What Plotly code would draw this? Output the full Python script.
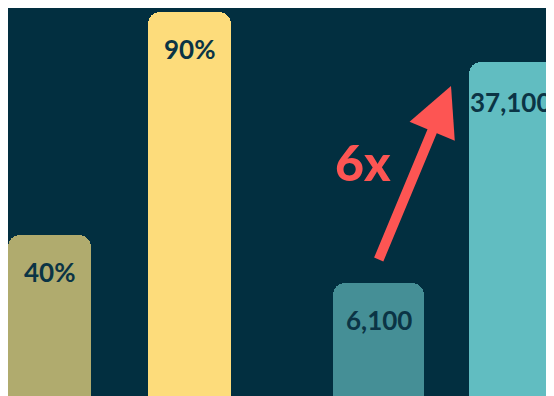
import math
import plotly.graph_objects as go

# ---- data ----
share_labels = ["Before", "After"]
share_values = [40, 90]
share_text = ["40%", "90%"]

count_labels = ["Before", "After"]
count_values = [6100, 37100]
count_text = ["6,100", "37,100"]

growth_text = "6x"

# ---- style ----
BG = "#022f40"
TXT = "#0b3445"
RED = "#fd5553"
share_colors = ["#b0ab6e", "#fddc7b"]
count_colors = ["#458f96", "#61bdc1"]
FONT = "Lato"

fig = go.Figure()
fig.add_trace(go.Bar(x=share_labels, y=share_values, marker=dict(color=share_colors, cornerradius=12, line=dict(width=0)),
                     width=0.593, xaxis="x", yaxis="y", hoverinfo="skip"))
fig.add_trace(go.Bar(x=count_labels, y=count_values, marker=dict(color=count_colors, cornerradius=12, line=dict(width=0)),
                     width=0.669, xaxis="x2", yaxis="y2", hoverinfo="skip"))

ann = []
for i, (v, t) in enumerate(zip(share_values, share_text)):
    ann.append(dict(x=i, y=v, xref="x", yref="y", text=t, showarrow=False, yshift=-37,
                    yanchor="middle", font=dict(family=FONT, size=26, color=TXT, weight="bold")))
for i, (v, t) in enumerate(zip(count_values, count_text)):
    ann.append(dict(x=i - (0.03 if i == 1 else 0), y=math.log10(v), xref="x2", yref="y2", text=t, showarrow=False,
                    yshift=-40 if i == 1 else -37,
                    yanchor="middle", font=dict(family=FONT, size=26, color=TXT, weight="bold")))

# log axis scale: px per decade
LOG0, LOG1 = 3.35606, 4.76095
PXD = 396 / (LOG1 - LOG0)
lo, hi = math.log10(count_values[0]), math.log10(count_values[1])
# arrow from just above the first count bar toward the second
ann.append(dict(x=0.533, y=hi - 24 / PXD, xref="x2", yref="y2",
                ax=0.0, ay=lo + 23 / PXD, axref="x2", ayref="y2",
                text="", showarrow=True, arrowhead=2, arrowsize=0.98, arrowwidth=10,
                arrowcolor=RED, standoff=0, startstandoff=0, borderpad=0))
ann.append(dict(x=-0.114, y=lo + 121 / PXD, xref="x2", yref="y2", text=growth_text, showarrow=False,
                font=dict(family=FONT, size=50, color=RED, weight=900)))

fig.update_layout(
    width=554, height=396, margin=dict(l=0, r=0, t=0, b=0),
    paper_bgcolor=BG, plot_bgcolor=BG, showlegend=False, bargap=0,
    xaxis=dict(domain=[0, 252 / 554], range=[-0.2964, 1.5036], visible=False, type="category"),
    yaxis=dict(range=[2.11, 90.9], visible=False),
    xaxis2=dict(domain=[262 / 554, 1], range=[-0.7978, 1.349], visible=False, type="category"),
    yaxis2=dict(type="log", range=[LOG0, LOG1], visible=False, anchor="x2"),
    annotations=ann,
)
fig.write_html("out.html")
